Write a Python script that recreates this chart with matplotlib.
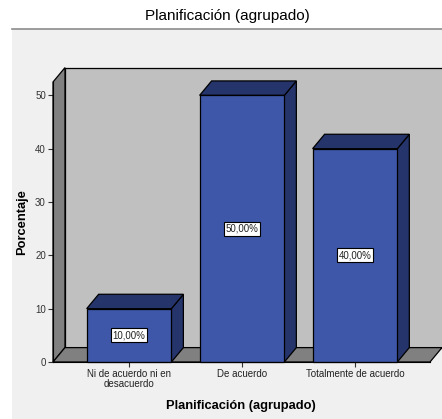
import matplotlib
matplotlib.use("Agg")
import matplotlib.pyplot as plt
from matplotlib.patches import Polygon, Rectangle
from matplotlib.lines import Line2D

plt.rcParams['font.family'] = ['Liberation Sans', 'DejaVu Sans']

# Data
categories = ["Ni de acuerdo ni en\ndesacuerdo", "De acuerdo", "Totalmente de acuerdo"]
percentages = [10.0, 50.0, 40.0]
value_labels = ["10,00%", "50,00%", "40,00%"]
yticks = [0, 10, 20, 30, 40, 50]

title = "Planificación (agrupado)"
xlabel = "Planificación (agrupado)"
ylabel = "Porcentaje"

# Styling
FRONT = "#3E57A8"
DARK = "#25346B"
BACK_WALL = "#C0C0C0"
SIDE_WALL = "#808080"
BAR_W = 0.75
DX, DY = 0.106, 2.7       # depth offset of the 3D box, in data units
XMIN, XMAX = -0.673, 2.664
YMAX = 52.5

fig = plt.figure(figsize=(4.42, 4.19), dpi=100)
fig.patch.set_facecolor("white")

# panel background and separator below the title
fig.add_artist(Rectangle((12 / 442, 0), 1, 1 - 29 / 419, transform=fig.transFigure,
                         facecolor="#F0F0F0", edgecolor="none", zorder=-10))
fig.add_artist(Line2D([12 / 442, 1], [1 - 29 / 419] * 2, transform=fig.transFigure,
                      color="#8C8C8C", lw=1.2, zorder=-9))

ax = fig.add_axes([53 / 442, 1 - 362 / 419, 377 / 442, 280 / 419])
ax.set_xlim(XMIN, XMAX)
ax.set_ylim(0, YMAX)
ax.patch.set_visible(False)

ec = dict(edgecolor="black", linewidth=0.9)

# back wall, left wall, floor
ax.add_patch(Polygon([(XMIN + DX, DY), (XMAX + DX + 0.2, DY), (XMAX + DX + 0.2, YMAX + DY),
                      (XMIN + DX, YMAX + DY)], closed=True, facecolor=BACK_WALL,
                     clip_on=False, zorder=1, **ec))
ax.add_patch(Polygon([(XMIN, 0), (XMIN + DX, DY), (XMIN + DX, YMAX + DY), (XMIN, YMAX)],
                     closed=True, facecolor=SIDE_WALL, clip_on=False, zorder=2, **ec))
ax.add_patch(Polygon([(XMIN, 0), (XMAX, 0), (XMAX + DX, DY), (XMIN + DX, DY)],
                     closed=True, facecolor=SIDE_WALL, clip_on=False, zorder=2, **ec))

# 3D bars
for i, v in enumerate(percentages):
    x0, x1 = i - BAR_W / 2, i + BAR_W / 2
    ax.add_patch(Polygon([(x1, 0), (x1 + DX, DY), (x1 + DX, v + DY), (x1, v)],
                         closed=True, facecolor=DARK, clip_on=False, zorder=3, **ec))
    ax.add_patch(Polygon([(x0, v), (x0 + DX, v + DY), (x1 + DX, v + DY), (x1, v)],
                         closed=True, facecolor=DARK, clip_on=False, zorder=3, **ec))
    ax.add_patch(Rectangle((x0, 0), BAR_W, v, facecolor=FRONT, clip_on=False, zorder=4, **ec))
    ax.text(i, v / 2, value_labels[i], ha="center", va="center", fontsize=7, zorder=5,
            color="#222222",
            bbox=dict(boxstyle="square,pad=0.2", facecolor="white", edgecolor="black", lw=0.8))

# axes
for s in ["top", "right"]:
    ax.spines[s].set_visible(False)
ax.spines["left"].set_zorder(6)
ax.spines["bottom"].set_zorder(6)
ax.set_yticks(yticks)
ax.set_yticklabels([str(t) for t in yticks], fontsize=7, color="#333333")
ax.set_xticks(range(len(categories)))
ax.set_xticklabels(categories, fontsize=7, linespacing=1.0, color="#222222")
ax.tick_params(axis="both", length=3.6, width=0.8, pad=1.5, color="#333333")

fig.text(227 / 442, 1 - 16 / 419, title, ha="center", va="center", fontsize=11)
fig.text(241 / 442, 1 - 406 / 419, xlabel, ha="center", va="center", fontsize=9.3,
         fontweight="bold")
fig.text(22 / 442, 1 - 222 / 419, ylabel, ha="center", va="center", fontsize=9.3,
         fontweight="bold", rotation=90)

fig.savefig("out.png", dpi=100)
